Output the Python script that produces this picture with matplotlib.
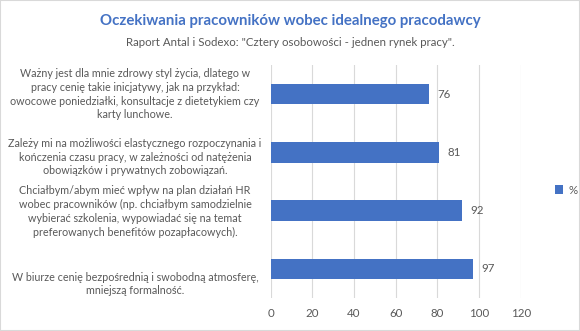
import matplotlib.pyplot as plt
from matplotlib.patches import Rectangle
from matplotlib.transforms import blended_transform_factory

plt.rcParams['font.family'] = ['Lato', 'DejaVu Sans']

categories = [
    "Ważny jest dla mnie zdrowy styl życia, dlatego w\npracy cenię takie inicjatywy, jak na przykład:\n"
    "owocowe poniedziałki, konsultacje z dietetykiem czy\nkarty lunchowe.",
    "Zależy mi na możliwości elastycznego rozpoczynania i\nkończenia czasu pracy, w zależności od natężenia\n"
    "obowiązków i prywatnych zobowiązań.",
    "Chciałbym/abym mieć wpływ na plan działań HR\nwobec pracowników (np. chciałbym samodzielnie\n"
    "wybierać szkolenia, wypowiadać się na temat\npreferowanych benefitów pozapłacowych).",
    "W biurze cenię bezpośrednią i swobodną atmosferę,\nmniejszą formalność.",
]
values = [76, 81, 92, 97]
series_name = "%"
x_ticks = [0, 20, 40, 60, 80, 100, 120]

blue = "#4472C4"
gray_text = "#595959"

fig = plt.figure(figsize=(5.8, 3.31), dpi=100)
fig.patches.append(Rectangle((0, 0), 1, 1, transform=fig.transFigure,
                             fill=False, edgecolor="#D9D9D9", linewidth=1.5))

ax = fig.add_axes([270.7 / 580, 1 - 298 / 331, 250 / 580, 233 / 331])
pos = list(range(len(values)))
bars = ax.barh(pos, values, height=0.35, color=blue, label=series_name, zorder=3)
ax.set_ylim(len(values) - 0.5, -0.5)
ax.set_xlim(0, 120)
ax.set_xticks(x_ticks)
ax.set_xticklabels([str(t) for t in x_ticks], color=gray_text, fontsize=8.3)
ax.tick_params(axis="x", length=0, pad=7)
ax.set_yticks([])
ax.grid(axis="x", color="#D9D9D9", linewidth=0.8, zorder=0)
for s in ax.spines.values():
    s.set_visible(False)

for b, v in zip(bars, values):
    ax.annotate(str(v), (v, b.get_y() + b.get_height() / 2), xytext=(6, 0),
                textcoords="offset points", va="center", ha="left",
                color=gray_text, fontsize=8.3)

# category labels (Excel places them slightly off-centre)
lab_trans = blended_transform_factory(fig.transFigure, ax.transData)
y_shift = [0.0, 0.08, 0.02, 0.26]
for p, text, dy in zip(pos, categories, y_shift):
    ax.text(135 / 580, p + dy, text, transform=lab_trans, ha="center", va="center",
            multialignment="center", color=gray_text, fontsize=7.75, linespacing=1.32)

fig.text(0.5, 1 - 21 / 331, "Oczekiwania pracowników wobec idealnego pracodawcy",
         ha="center", va="center", color=blue, fontsize=10.8, fontweight="bold")
fig.text(0.5, 1 - 43 / 331, 'Raport Antal i Sodexo: "Cztery osobowości - jednen rynek pracy".',
         ha="center", va="center", color=gray_text, fontsize=8.3)

fig.legend(loc="center left", bbox_to_anchor=(545 / 580, 1 - 190 / 331), frameon=False,
           handlelength=0.7, handleheight=0.7, handletextpad=0.4,
           prop={"size": 8.3}, labelcolor=gray_text)

fig.savefig("out.png", dpi=100)
